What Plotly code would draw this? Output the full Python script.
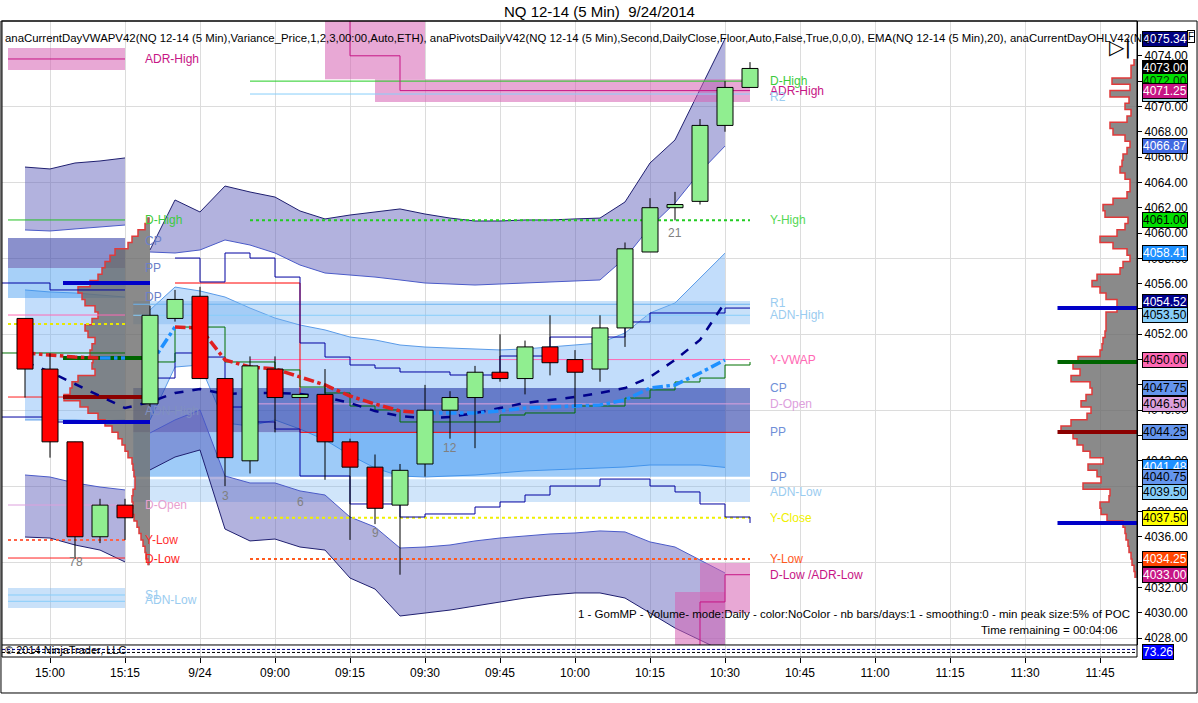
import plotly.graph_objects as go

# ---------------- price bars (NQ 12-14, 5 min) ----------------
# bar 1-5 = 9/23 14:55..15:15, bar 6-30 = 9/24 08:35..10:35
bar_no = list(range(1, 31))
opens = [4053.25, 4049.25, 4043.5, 4036.0, 4038.5, 4046.5, 4053.25, 4055.0, 4048.5, 4042.0,
         4049.25, 4047.0, 4047.25, 4043.5, 4041.5, 4038.5, 4041.75, 4046.0, 4047.0, 4049.0,
         4048.5, 4051.0, 4050.0, 4049.25, 4052.5, 4058.5, 4062.0, 4062.5, 4068.5, 4071.5]
highs = [4053.25, 4050.5, 4043.5, 4039.0, 4039.0, 4054.25, 4055.5, 4055.75, 4048.5, 4050.25,
         4050.25, 4047.25, 4049.25, 4043.75, 4042.5, 4041.75, 4048.0, 4047.5, 4049.5, 4052.0,
         4051.5, 4053.5, 4050.75, 4053.5, 4059.25, 4062.75, 4063.25, 4069.0, 4072.0, 4073.5]
lows = [4047.0, 4042.25, 4034.25, 4035.5, 4035.75, 4046.25, 4053.0, 4048.5, 4040.0, 4041.0,
        4044.25, 4047.0, 4040.5, 4035.75, 4037.0, 4033.0, 4040.75, 4043.75, 4043.0, 4048.25,
        4047.25, 4048.75, 4046.25, 4048.25, 4051.0, 4058.5, 4061.0, 4062.25, 4068.0, 4071.5]
closes = [4049.25, 4043.5, 4036.0, 4038.5, 4037.5, 4053.5, 4054.75, 4048.5, 4042.25, 4049.5,
          4047.0, 4047.25, 4043.5, 4041.5, 4038.25, 4041.25, 4046.0, 4047.0, 4049.0, 4048.5,
          4051.0, 4049.75, 4049.0, 4052.5, 4058.75, 4062.0, 4062.25, 4068.5, 4071.5, 4073.0]

tick_bars = [2, 5, 8, 11, 14, 17, 20, 23, 26, 29, 32, 35, 38, 41, 44]
tick_labels = ["15:00", "15:15", "9/24", "09:00", "09:15", "09:30", "09:45", "10:00",
               "10:15", "10:30", "10:45", "11:00", "11:15", "11:30", "11:45"]
grid_prices = [4028, 4034, 4040, 4046, 4052, 4058, 4064, 4070]
label_prices = list(range(4028, 4076, 2))

# ---------------- VWAP + std dev bands ----------------
prev_bars = [1, 2, 3, 4, 5]
prev_vwap = [4050.52, 4050.36, 4050.20, 4050.12, 4050.12]
prev_sd3_up = [4065.21, 4065.06, 4065.53, 4065.69, 4065.93]
prev_sd2_up = [4060.24, 4060.16, 4060.32, 4060.47, 4060.63]
prev_sd1_up = [4055.50, 4055.34, 4055.26, 4055.10, 4054.94]
prev_sd1_dn = [4045.23, 4045.23, 4045.23, 4045.15, 4045.23]
prev_sd2_dn = [4040.88, 4040.72, 4040.25, 4039.93, 4039.70]
prev_sd3_dn = [4035.98, 4035.90, 4035.35, 4034.95, 4034.01]

cur_bars = list(range(6, 30))
cur_vwap = [4049.57, 4052.57, 4052.49, 4049.97, 4049.41, 4049.26, 4048.62, 4047.99, 4047.12, 4046.49,
            4045.94, 4045.78, 4045.78, 4045.78, 4045.94, 4046.17, 4046.25, 4046.33, 4046.41, 4046.81,
            4047.75, 4047.99, 4048.94, 4049.97]
cur_sd3_up = [4058.66, 4062.61, 4061.66, 4063.71, 4063.24, 4062.84, 4061.74, 4061.11, 4061.42, 4061.66,
              4061.90, 4061.50, 4061.18, 4060.95, 4060.95, 4061.03, 4061.03, 4061.11, 4061.18, 4062.45,
              4065.53, 4067.35, 4071.30, 4075.34]
cur_sd2_up = [4058.50, 4058.42, 4058.66, 4059.45, 4059.05, 4058.42, 4057.47, 4056.84, 4056.68, 4056.52,
              4056.29, 4056.05, 4055.97, 4055.89, 4055.97, 4056.05, 4056.13, 4056.21, 4056.29, 4058.02,
              4060.47, 4062.37, 4064.82, 4066.87]
cur_sd1_up = [4053.92, 4055.73, 4055.42, 4054.94, 4054.07, 4053.28, 4052.73, 4052.34, 4051.78, 4051.55,
              4051.15, 4050.99, 4050.91, 4050.84, 4050.76, 4050.84, 4050.99, 4051.15, 4051.31, 4052.10,
              4053.68, 4054.47, 4056.44, 4058.41]
cur_sd1_dn = [4045.23, 4049.41, 4049.57, 4044.99, 4044.75, 4045.23, 4044.51, 4043.65, 4042.46, 4041.43,
              4040.80, 4040.72, 4040.80, 4040.88, 4041.04, 4041.20, 4041.28, 4041.35, 4041.43, 4041.51,
              4041.67, 4041.67, 4041.67, 4041.48]
cur_sd2_dn = [4044.20, 4045.23, 4046.02, 4040.80, 4040.25, 4040.25, 4039.62, 4039.30, 4037.56, 4036.77,
              4035.11, 4035.19, 4035.35, 4035.67, 4035.90, 4036.06, 4036.22, 4036.30, 4036.46, 4036.38,
              4035.59, 4035.19, 4034.16, 4033.14]
cur_sd3_dn = [4041.28, 4042.30, 4042.86, 4036.61, 4035.67, 4035.82, 4035.19, 4034.95, 4032.74, 4031.87,
              4029.74, 4029.98, 4030.21, 4030.53, 4030.85, 4031.16, 4031.40, 4031.56, 4031.56, 4031.16,
              4029.98, 4028.79, 4027.84, 4026.90]

# EMA(20), bars 1..29
ema_bars = list(range(1, 30))
ema20 = [4049.81, 4049.02, 4048.07, 4047.12, 4046.17, 4046.65, 4047.36, 4047.67, 4047.28, 4047.36,
         4047.36, 4047.28, 4047.04, 4046.57, 4045.94, 4045.54, 4045.38, 4045.46, 4045.78, 4046.17,
         4046.57, 4046.81, 4047.04, 4047.36, 4047.75, 4048.62, 4049.97, 4051.55, 4054.52]

# step lines
upper_step_bars = list(range(7, 31))
upper_step = [4058.02, 4056.13, 4058.42, 4058.02, 4056.52, 4051.31, 4050.20, 4049.57, 4049.33, 4049.02,
              4049.02, 4048.78, 4048.78, 4050.28, 4050.28, 4051.78, 4051.78, 4051.78, 4052.97, 4053.68,
              4053.68, 4053.68, 4054.07, 4054.07]
lower_step_bars = list(range(6, 31))
lower_step = [4048.54, 4050.52, 4050.20, 4046.25, 4045.07, 4044.51, 4040.80, 4040.80, 4038.59, 4038.59,
              4037.56, 4037.80, 4037.80, 4038.35, 4038.75, 4039.30, 4040.01, 4040.01, 4040.56, 4040.56,
              4040.01, 4039.54, 4038.59, 4037.56, 4037.09]
green_step = [4049.81, 4052.57, 4052.57, 4049.81, 4049.81, 4049.18, 4047.83, 4047.36, 4046.33, 4046.02,
              4045.07, 4045.07, 4045.07, 4045.07, 4045.62, 4045.78, 4045.78, 4046.33, 4046.33, 4046.96,
              4047.60, 4048.23, 4048.54, 4049.57, 4049.81]
prev_step_bars = [0, 2, 5]
prev_upper_step = [4056.05, 4055.50, 4055.50]
prev_lower_step = [4045.46, 4045.07, 4045.07]
prev_green_step = [4050.52, 4050.52, 4050.52]

# ADR high / low steps
adr_high_bars = [13, 14, 16, 30]
adr_high = [4077.5, 4074.0, 4071.25, 4071.25]
adr_low_bars = [27, 28, 29, 30]
adr_low = [4026.5, 4030.85, 4033.0, 4033.0]
adr_zone_from = [13, 15, 27, 28, 0.32]
adr_zone_to = [17, 30, 29, 30, 5]
adr_zone_lo = [4072.15, 4070.35, 4026.5, 4029.98, 4072.88]
adr_zone_hi = [4077.0, 4072.15, 4031.63, 4033.93, 4074.62]

# pivot zones
cur_zone_from, cur_zone_to = 5.33, 30
cur_zone_lo = [4052.79, 4044.25, 4040.75, 4038.75]
cur_zone_hi = [4054.62, 4047.75, 4044.25, 4040.54]
prev_zone_from, prev_zone_to = 0.32, 5
prev_zone_lo = [4057.23, 4054.86, 4030.37]
prev_zone_hi = [4059.61, 4057.23, 4031.95]

# level lines, current day
cur_level_names = ["D-High", "R2", "Y-High", "R1", "ADN-High", "Y-VWAP", "D-Open", "Y-Close", "Y-Low"]
cur_level_prices = [4072.00, 4070.98, 4061.00, 4054.37, 4053.50, 4050.00, 4046.50, 4037.50, 4034.25]
cur_level_from = [10, 10, 10, 5.33, 5.33, 10, 10, 10, 10]
pp_line_bars = [7, 12, 30]
pp_line = [4056.05, 4044.25, 4044.25]

# level lines, previous day
prev_level_prices = [4061.03, 4073.75, 4053.52, 4052.81, 4047.04, 4038.51, 4035.74, 4034.32, 4031.40, 4030.90]

# labels
cur_label_names = ["D-High", "ADR-High", "R2", "Y-High", "R1", "ADN-High", "Y-VWAP", "CP", "D-Open",
                   "PP", "DP", "ADN-Low", "Y-Close", "Y-Low", "D-Low /ADR-Low"]
cur_label_prices = [4072.0, 4071.2, 4070.75, 4061.0, 4054.45, 4053.5, 4050.0, 4047.75, 4046.5,
                    4044.25, 4040.75, 4039.5, 4037.5, 4034.25, 4033.0]
prev_label_names = ["ADR-High", "D-High", "CP", "PP", "DP", "ADN-High", "D-Open", "Y-Low", "D-Low", "S1", "ADN-Low"]
prev_label_prices = [4073.75, 4061.0, 4059.36, 4057.23, 4054.94, 4045.94, 4038.51, 4035.74, 4034.24, 4031.4, 4031.0]

count_text = ["7", "8", "3", "6", "9", "12", "21"]
count_bars = [2.88, 3.16, 9, 12, 15, 18, 27]
count_prices = [4034.0, 4034.0, 4039.2, 4038.75, 4036.3, 4043.0, 4060.0]

# volume profiles (0.5 pt bins)
prof_step = 0.5
prev_prof_low = 4034.0
prev_prof_vol = [2, 4, 5, 7, 9, 11, 13, 16, 18, 17, 18, 17, 15, 15, 16, 17, 18, 22, 25, 28,
                 32, 38, 45, 52, 62, 70, 86, 80, 78, 72, 55, 58, 57, 60, 58, 55, 62, 65, 58, 52,
                 55, 65, 68, 72, 60, 52, 48, 45, 40, 35, 22, 18, 12, 5, 2]
cur_prof_low = 4033.0
cur_prof_vol = [2, 3, 5, 6, 8, 9, 11, 12, 14, 30, 36, 37, 28, 27, 54, 36, 40, 49, 34, 47,
                54, 60, 64, 76, 66, 50, 46, 56, 51, 45, 47, 66, 57, 64, 59, 37, 35, 34, 32, 31,
                31, 31, 20, 20, 31, 37, 45, 40, 17, 14, 7, 10, 24, 37, 20, 12, 9, 32, 34, 24,
                10, 7, 7, 12, 17, 15, 14, 10, 7, 12, 24, 27, 10, 6, 12, 8, 27, 7, 25, 6, 6, 3]
prev_prof_marks = [4056.05, 4050.12, 4047.04, 4045.07]
cur_prof_marks = [4054.07, 4049.81, 4044.28, 4037.09]

# right axis price markers
tag_prices = [4075.34, 4073.00, 4072.00, 4070.98, 4071.25, 4066.87, 4061.00, 4058.41, 4054.52, 4053.50,
              4050.00, 4047.75, 4046.50, 4044.25, 4041.48, 4040.75, 4039.50, 4037.50, 4034.25, 4033.00]
panel_value = 73.26

# ---------------- styling ----------------
FONT = "Liberation Sans, Arial, sans-serif"
X_MIN, X_MAX = 0.08, 45.48
Y_MIN, Y_MAX = 4027.45, 4076.75
PURPLE = "rgba(95,95,185,0.48)"
SD1 = "rgba(110,175,245,0.42)"
PINK = "rgba(214,96,178,0.55)"

fig = go.Figure()


def add_poly(xs, ys, color, line_color=None, width=0):
    fig.add_trace(go.Scatter(x=xs, y=ys, fill="toself", fillcolor=color, mode="lines",
                             line=dict(color=line_color or color, width=width),
                             hoverinfo="skip", showlegend=False))


def add_line(xs, ys, color, width=1, dash="solid", shape="linear", yaxis="y"):
    fig.add_trace(go.Scatter(x=xs, y=ys, mode="lines", yaxis=yaxis,
                             line=dict(color=color, width=width, dash=dash, shape=shape),
                             hoverinfo="skip", showlegend=False))


def add_band(xs, top, bot, color, top_line, bot_line):
    add_poly(xs + xs[::-1], top + bot[::-1], color)
    add_line(xs, top, top_line)
    add_line(xs, bot, bot_line)


def add_rect(x0, x1, lo, hi, color):
    add_poly([x0, x1, x1, x0, x0], [lo, lo, hi, hi, lo], color)


# SD1 bands
add_band(prev_bars, prev_sd1_up, prev_sd1_dn, SD1, "#5A9BE8", "#5A9BE8")
add_band(cur_bars, cur_sd1_up, cur_sd1_dn, SD1, "#5A9BE8", "#5A9BE8")

# pivot zones
prev_zone_colors = ["rgba(60,70,170,0.6)", "rgba(60,150,240,0.45)", "rgba(120,180,240,0.4)"]
for lo, hi, c in zip(prev_zone_lo, prev_zone_hi, prev_zone_colors):
    add_rect(prev_zone_from, prev_zone_to, lo, hi, c)
cur_zone_colors = ["rgba(120,180,240,0.40)", "rgba(45,65,170,0.62)",
                   "rgba(40,140,240,0.45)", "rgba(120,180,240,0.35)"]
for lo, hi, c in zip(cur_zone_lo, cur_zone_hi, cur_zone_colors):
    add_rect(cur_zone_from, cur_zone_to, lo, hi, c)

# purple 2-3 sd bands
add_band(prev_bars, prev_sd3_up, prev_sd2_up, PURPLE, "#1F1F70", "#4B5BC8")
add_band(prev_bars, prev_sd2_dn, prev_sd3_dn, PURPLE, "#4B5BC8", "#1F1F70")
add_band(cur_bars, cur_sd3_up, cur_sd2_up, PURPLE, "#1F1F70", "#4B5BC8")
add_band(cur_bars, cur_sd2_dn, cur_sd3_dn, PURPLE, "#4B5BC8", "#1F1F70")

# ADR zones
for x0, x1, lo, hi in zip(adr_zone_from, adr_zone_to, adr_zone_lo, adr_zone_hi):
    add_rect(x0, x1, lo, hi, PINK)


# volume profiles
def profile_path(anchor, low, vols):
    xs, ys = [], []
    for k, v in enumerate(vols):
        lo = low + k * prof_step - prof_step / 2
        w = v / 25.0
        xs += [anchor - w, anchor - w]
        ys += [lo, lo + prof_step]
    return xs, ys


for anchor, low, vols in [(6.0, prev_prof_low, prev_prof_vol), (X_MAX, cur_prof_low, cur_prof_vol)]:
    px, py = profile_path(anchor, low, vols)
    add_poly([anchor] + px + [anchor], [py[0]] + py + [py[-1]], "rgba(105,105,105,0.78)")
    add_line(px, py, "#E03A3A", width=1.5)

# previous day level lines
prev_level_colors = ["#22C022", "#C71585", "#FF69B4", "#E8E800", "#FF2020", "#DDA0DD",
                     "#FF6347", "#FF2020", "#87CEFA", "#87CEFA"]
prev_level_dash = ["solid", "solid", "solid", "dot", "solid", "solid", "dot", "solid", "solid", "solid"]
for p, c, d in zip(prev_level_prices, prev_level_colors, prev_level_dash):
    add_line([prev_zone_from, prev_zone_to], [p, p], c, width=2 if d == "dot" else 1, dash=d)

# current day level lines
cur_level_colors = ["#22CC22", "#87CEFA", "#22CC22", "#6CB4F0", "#87CEFA", "#FF69B4", "#DDA0DD",
                    "#F0F000", "#FF5A1E"]
cur_level_dash = ["solid", "solid", "dot", "solid", "solid", "solid", "solid", "dot", "dot"]
for p, x0, c, d in zip(cur_level_prices, cur_level_from, cur_level_colors, cur_level_dash):
    add_line([x0, 30], [p, p], c, width=2 if d == "dot" else 1, dash=d)
add_line(pp_line_bars, pp_line, "#FF0000", shape="hv")
add_line(adr_high_bars, adr_high, "#C71585", shape="hv")
add_line(adr_low_bars, adr_low, "#C71585", shape="hv")

# step lines
add_line(prev_step_bars, prev_upper_step, "#0000A0", shape="hv")
add_line(prev_step_bars, prev_lower_step, "#0000A0", shape="hv")
add_line(prev_step_bars, prev_green_step, "#007000", shape="hv")
add_line(upper_step_bars, upper_step, "#0000A0", shape="hv")
add_line(lower_step_bars, lower_step, "#0000A0", shape="hv")
add_line(lower_step_bars, green_step, "#007000", shape="hv")

# profile marker lines
for p, c in zip(prev_prof_marks, ["#0000C8", "#006400", "#8B0000", "#0000C8"]):
    add_line([2.52, 6.0], [p, p], c, width=4)
for p, c in zip(cur_prof_marks, ["#0000C8", "#006400", "#8B0000", "#0000C8"]):
    add_line([42.3, X_MAX], [p, p], c, width=4)

# EMA
add_line(ema_bars, ema20, "#00008B", width=2.5, dash="dash")


# VWAP coloured by slope
def add_vwap(xs, vals):
    segs = []
    for k in range(len(vals) - 1):
        col = "#E02020" if vals[k + 1] < vals[k] else "#1E90FF"
        if segs and segs[-1][0] == col:
            segs[-1][1].append(k + 1)
        else:
            segs.append([col, [k, k + 1]])
    for col, idx in segs:
        add_line([xs[i] for i in idx], [vals[i] for i in idx], col, width=3.5, dash="dashdot")


add_vwap(prev_bars, prev_vwap)
add_vwap(cur_bars, cur_vwap)

# candles: wicks, then bodies as filled scatter boxes (so they sit above the fills)
wx, wy = [], []
for i, h, l in zip(bar_no, highs, lows):
    wx += [i, i, None]
    wy += [l, h, None]
add_line(wx, wy, "black", width=1)
up_x, up_y, dn_x, dn_y = [], [], [], []
for i, o, c in zip(bar_no, opens, closes):
    lo, hi = min(o, c), max(o, c)
    if hi - lo < 0.12:
        hi = lo + 0.12
    bx = [i - 0.32, i + 0.32, i + 0.32, i - 0.32, i - 0.32, None]
    by = [lo, lo, hi, hi, lo, None]
    if c >= o:
        up_x += bx
        up_y += by
    else:
        dn_x += bx
        dn_y += by
add_poly(up_x, up_y, "#90EE90", line_color="black", width=1)
add_poly(dn_x, dn_y, "#FF0000", line_color="black", width=1)

# lower indicator panel
add_line([X_MIN, X_MAX], [panel_value, panel_value], "black", width=1, dash="3px,2px", yaxis="y2")
add_line([X_MIN, X_MAX], [73.7, 73.7], "#00008B", width=1, dash="3px,2px", yaxis="y2")

# price tag arrows
tag_bg = ["#000080", "#000000", "#00E000", "#ADD8E6", "#C71585", "#4169E1", "#00E000", "#1E90FF",
          "#00008B", "#87CEFA", "#FF69B4", "#6495ED", "#DDA0DD", "#6495ED", "#1E90FF", "#6495ED",
          "#87CEFA", "#FFFF00", "#FF4500", "#C71585"]
tag_fg = ["white", "white", "#003300", "black", "white", "white", "black", "white",
          "white", "black", "black", "black", "black", "black", "white", "black",
          "black", "black", "white", "white"]
fig.add_trace(go.Scatter(x=[45.62] * len(tag_prices), y=tag_prices, mode="markers", cliponaxis=False,
                         marker=dict(symbol="triangle-left", size=10, color=tag_bg,
                                     line=dict(color="black", width=1)),
                         hoverinfo="skip", showlegend=False))
fig.add_trace(go.Scatter(x=[None], y=[None], yaxis="y3", showlegend=False))

ann = []
for p, bg, fg in zip(tag_prices, tag_bg, tag_fg):
    ann.append(dict(x=1, xref="paper", xanchor="left", xshift=5, y=p, yref="y", yanchor="middle",
                    text="%.2f" % p, showarrow=False, bgcolor=bg, bordercolor="black",
                    borderwidth=1, borderpad=0, font=dict(color=fg, size=12)))
ann.append(dict(x=1, xref="paper", xanchor="left", xshift=5, y=panel_value, yref="y2", yanchor="middle",
                text="%.2f" % panel_value, showarrow=False, bgcolor="#0000FF",
                bordercolor="black", borderwidth=1, borderpad=0, font=dict(color="white", size=12)))

cur_label_colors = ["#3CCB3C", "#C71585", "#9ACCF0", "#55D855", "#9ACCF0", "#9ACCF0", "#FF69B4",
                    "#6F8FD8", "#DDA0DD", "#6F8FD8", "#6F8FD8", "#9ACCF0", "#F0F000", "#FF5A1E", "#C71585"]
for t, p, c in zip(cur_label_names, cur_label_prices, cur_label_colors):
    ann.append(dict(x=30.72, y=p, xref="x", yref="y", xanchor="left", yanchor="middle", text=t,
                    showarrow=False, font=dict(color=c, size=12)))
prev_label_colors = ["#C71585", "#3CCB3C", "#6A7FC8", "#6A7FC8", "#6A7FC8", "#8090C0", "#E8A0D0",
                     "#FF3030", "#FF2020", "#9ACCF0", "#9ACCF0"]
for t, p, c in zip(prev_label_names, prev_label_prices, prev_label_colors):
    ann.append(dict(x=5.72, y=p, xref="x", yref="y", xanchor="left", yanchor="middle", text=t,
                    showarrow=False, font=dict(color=c, size=12)))
for t, b, p in zip(count_text, count_bars, count_prices):
    ann.append(dict(x=b, y=p, xref="x", yref="y", xanchor="center", yanchor="middle", text=t,
                    showarrow=False, font=dict(color="#808080", size=12)))

ann += [
    dict(x=0.526, y=1.0142, xref="paper", yref="paper", xanchor="center", yanchor="middle",
         text="NQ 12-14 (5 Min)\u00a0\u00a09/24/2014", showarrow=False, font=dict(size=15)),
    dict(x=0, xshift=1, y=0.9733, xref="paper", yref="paper", xanchor="left", yanchor="middle",
         showarrow=False,
         text="anaCurrentDayVWAPV42(NQ 12-14 (5 Min),Variance_Price,1,2,3,00:00,Auto,ETH), "
              "anaPivotsDailyV42(NQ 12-14 (5 Min),Second,DailyClose,Floor,Auto,False,True,0,0,0), "
              "EMA(NQ 12-14 (5 Min),20), anaCurrentDayOHLV42(NQ 1",
         font=dict(size=11.4)),
    dict(x=0.9956, y=0.0676, xref="paper", yref="paper", xanchor="right", yanchor="middle",
         showarrow=False,
         text="1 - GomMP - Volume- mode:Daily - color:NoColor - nb bars/days:1 - smoothing:0 "
              "- min peak size:5% of POC", font=dict(size=11.5)),
    dict(x=0.985, y=0.0425, xref="paper", yref="paper", xanchor="right", yanchor="middle",
         showarrow=False, text="Time remaining = 00:04:06", font=dict(size=11.5)),
    dict(x=0, xshift=1, y=0.011, xref="paper", yref="paper", xanchor="left", yanchor="middle",
         showarrow=False, text="\u00a9 2014 NinjaTrader, LLC", font=dict(size=11)),
    dict(x=0.985, y=0.959, xref="paper", yref="paper", xanchor="center", yanchor="middle",
         showarrow=False, text="\u25b7|", font=dict(size=20, family="DejaVu Sans")),
    dict(x=1.0476, y=0.975, xref="paper", yref="paper", xanchor="center", yanchor="middle",
         showarrow=False, text="F", bgcolor="white", bordercolor="black", borderwidth=1,
         borderpad=0, font=dict(size=10)),
]

fig.update_layout(
    width=1198, height=703,
    margin=dict(l=2, r=61, t=21, b=46),
    paper_bgcolor="white", plot_bgcolor="white",
    showlegend=False,
    font=dict(family=FONT, size=12, color="black"),
    annotations=ann,
    xaxis=dict(range=[X_MIN, X_MAX], tickvals=tick_bars, ticktext=tick_labels, ticks="outside",
               ticklen=5, tickcolor="black", showgrid=True, gridcolor="#DCDCDC", zeroline=False,
               anchor="y2", tickfont=dict(size=12)),
    yaxis=dict(domain=[0.0189, 1], range=[Y_MIN, Y_MAX], tickvals=grid_prices, showticklabels=False,
               ticks="", showgrid=True, gridcolor="#DCDCDC", zeroline=False),
    yaxis3=dict(overlaying="y", side="right", anchor="x", range=[Y_MIN, Y_MAX], tickvals=label_prices,
                tickformat=".2f", ticks="outside", ticklen=4, tickcolor="black", showgrid=False,
                zeroline=False, showline=True, linecolor="black", tickfont=dict(size=12)),
    yaxis2=dict(domain=[0, 0.0173], range=[72.6, 74.2], showticklabels=False, ticks="",
                showgrid=False, zeroline=False),
    shapes=[
        dict(type="rect", xref="paper", yref="paper", x0=0, x1=1, y0=0, y1=1,
             line=dict(color="black", width=1)),
        dict(type="line", xref="paper", yref="paper", x0=0, x1=1, y0=0.0189, y1=0.0189,
             line=dict(color="black", width=1)),
        dict(type="rect", xref="paper", yref="paper", x0=-0.0009, x1=1.0529, y0=-0.0566, y1=1.0,
             line=dict(color="black", width=1)),
    ],
)

# the page's default body margin would push the 1198x703 figure off by 8px
fig.write_html("out.html", config={"displayModeBar": False},
               post_script="document.body.style.margin='0';")
